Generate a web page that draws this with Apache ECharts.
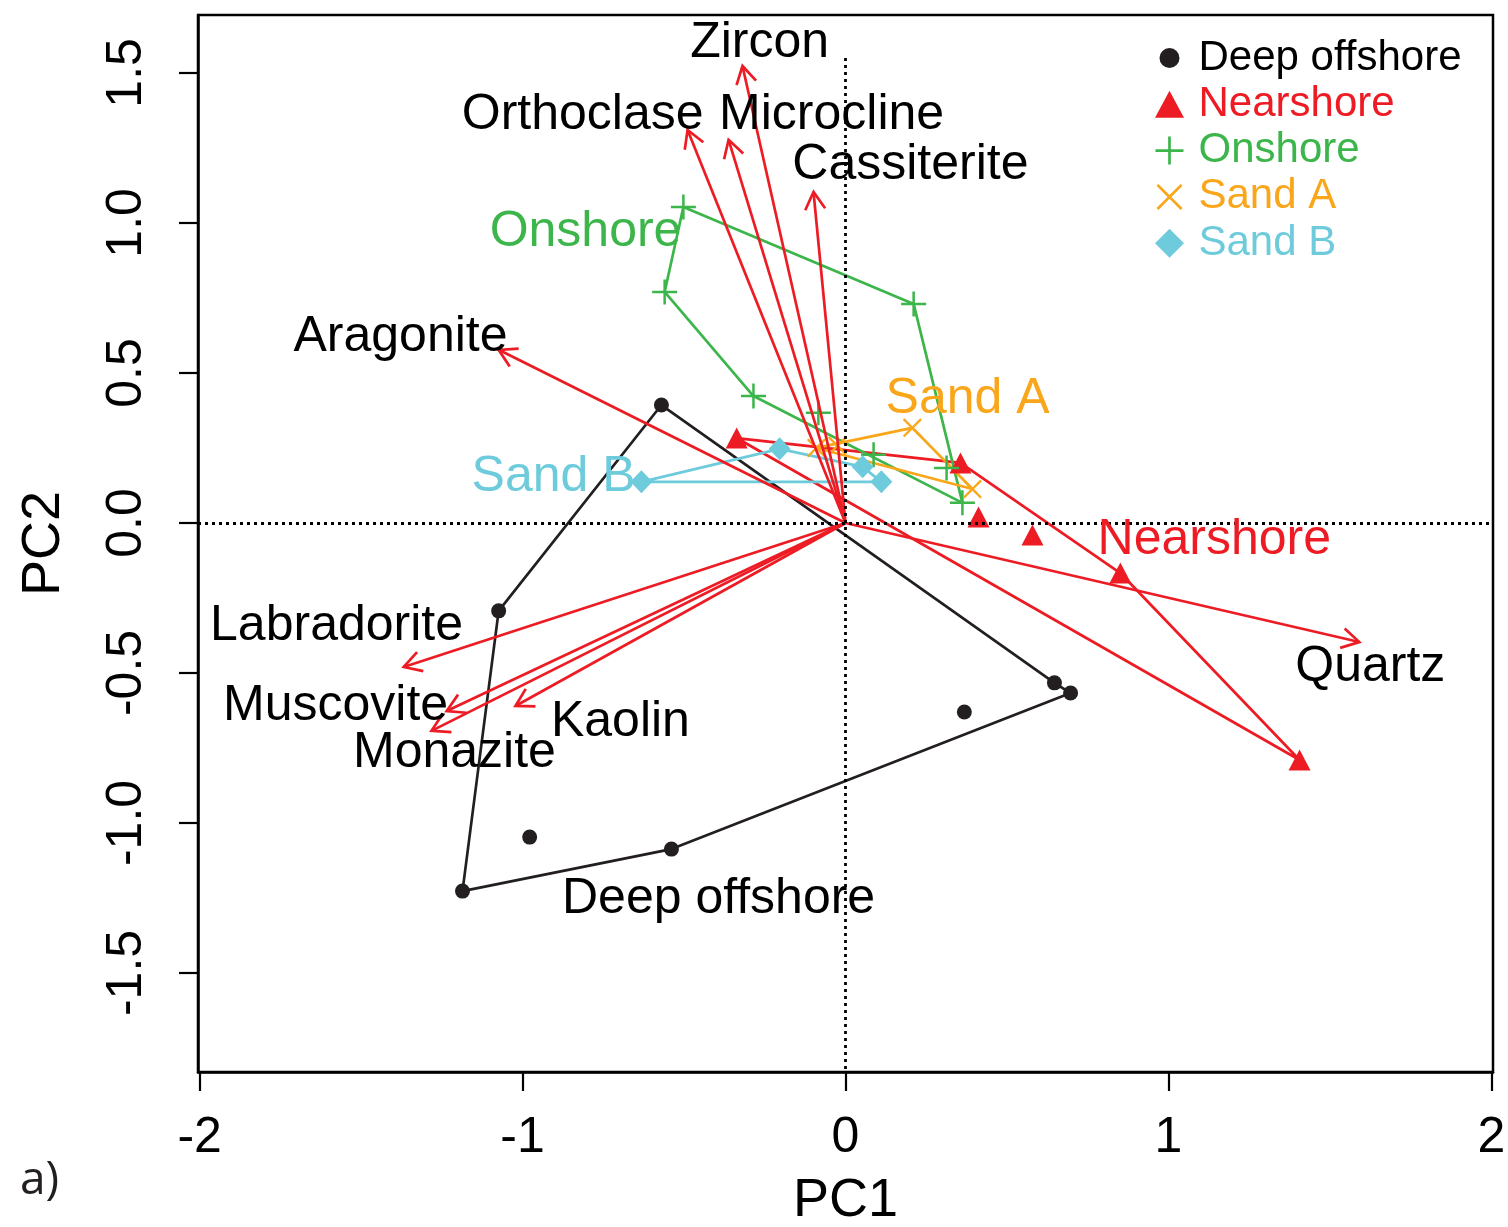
<!DOCTYPE html>
<html><head><meta charset="utf-8">
<script src="https://cdn.jsdelivr.net/npm/echarts@6/dist/echarts.min.js"></script>
<style>html,body{margin:0;padding:0;background:#fff}#c{width:1508px;height:1227px}</style>
</head><body><div id="c"></div>
<script>
// ---------------- DATA ----------------
const groupNames = ['Deep offshore', 'Nearshore', 'Onshore', 'Sand A', 'Sand B'];

const deepOffshore = [[-0.570, 0.393], [-1.074, -0.293], [-1.186, -1.227], [-0.978, -1.047],
                      [-0.539, -1.087], [0.368, -0.630], [0.647, -0.533], [0.697, -0.567]];
const deepOffshoreHull = [0, 6, 7, 4, 2, 1, 0];

const nearshore = [[-0.337, 0.283], [0.356, 0.200], [0.412, 0.020], [0.579, -0.040],
                   [0.851, -0.167], [1.406, -0.790]];
const nearshoreHull = [0, 1, 4, 5, 0];

const onshore = [[-0.502, 1.053], [-0.560, 0.770], [0.211, 0.730], [-0.285, 0.423],
                 [-0.084, 0.367], [0.087, 0.227], [0.313, 0.183], [0.362, 0.067]];
const onshoreHull = [0, 1, 3, 7, 2, 0];

const sandA = [[-0.090, 0.250], [-0.025, 0.257], [0.207, 0.317], [0.393, 0.113]];
const sandAHull = [0, 2, 3, 0];

const sandB = [[-0.632, 0.137], [-0.204, 0.247], [0.053, 0.187], [0.111, 0.137]];
const sandBHull = [0, 1, 2, 3, 0];

const groupLabelPos = [[-0.393, -1.253], [1.142, -0.057], [-0.805, 0.970], [0.378, 0.413], [-0.904, 0.153]];

const loadingNames = ['Zircon', 'Orthoclase', 'Microcline', 'Cassiterite', 'Aragonite',
                      'Labradorite', 'Muscovite', 'Monazite', 'Kaolin', 'Quartz'];
const loadingValues = [[-0.319, 1.523], [-0.489, 1.310], [-0.362, 1.277], [-0.099, 1.103],
                       [-1.074, 0.577], [-1.368, -0.480], [-1.235, -0.627], [-1.282, -0.693],
                       [-1.022, -0.610], [1.591, -0.397]];
const loadingLabelPos = [[-0.266, 1.600], [-0.814, 1.360], [-0.043, 1.360], [0.201, 1.193],
                         [-1.378, 0.620], [-1.576, -0.343], [-1.579, -0.610], [-1.211, -0.767],
                         [-0.697, -0.663], [1.625, -0.480]];

const xTicks = [-2, -1, 0, 1, 2];
const yTicks = [-1.5, -1.0, -0.5, 0.0, 0.5, 1.0, 1.5];
const xRange = [-2.005, 2.005];
const yRange = [-1.83, 1.693];
const vZeroLineTop = 1.55;

// ---------------- STYLE ----------------
const FONT = '"Liberation Sans", Arial, Helvetica, sans-serif';
const COLORS = ['#231f20', '#ed1c24', '#3cb54a', '#faa61a', '#6dcbdc'];
const TEXT_COLORS = ['#000', '#ed1c24', '#3cb54a', '#faa61a', '#6dcbdc'];
const LW = 2.7;

function plusPath(S, w, pad, box) {
  const a = S / 2 - w / 2, b = S / 2 + w / 2;
  const pts = [[a,0],[b,0],[b,a],[S,a],[S,b],[b,b],[b,S],[a,S],[a,b],[0,b],[0,a],[a,a]];
  return 'path://' + (box ? `M0,0 M${box},${box} ` : '') +
    pts.map((p, i) => (i ? 'L' : 'M') + (p[0] + pad).toFixed(2) + ',' + (p[1] + pad).toFixed(2)).join(' ') + ' Z';
}
function xPath(S, t, pad, box) {
  const d = t * Math.SQRT2, c = S / 2;
  const pts = [[d,0],[c,c-d],[S-d,0],[S,d],[c+d,c],[S,S-d],[S-d,S],[c,c+d],[d,S],[0,S-d],[c-d,c],[0,d]];
  return 'path://' + (box ? `M0,0 M${box},${box} ` : '') +
    pts.map((p, i) => (i ? 'L' : 'M') + (p[0] + pad).toFixed(2) + ',' + (p[1] + pad).toFixed(2)).join(' ') + ' Z';
}

const plotSymbols = [
  { symbol: 'circle', size: 15 },
  { symbol: 'triangle', size: [22, 21] },
  { symbol: plusPath(25, 2.5, 0, 0), size: 25 },
  { symbol: xPath(19, 1.15, 0, 0), size: 19 },
  { symbol: 'diamond', size: [22, 23] }
];
const legendIcons = [
  'path://M0,0 M29,29 M4.5,14.5 A10,10 0 1 1 24.5,14.5 A10,10 0 1 1 4.5,14.5 Z',
  'path://M0,0 M29,29 M14.5,1 L29,28 L0,28 Z',
  plusPath(28, 2.7, 0.5, 29),
  xPath(26, 1.35, 1.5, 29),
  'path://M14.5,0 L29,14.5 L14.5,29 L0,14.5 Z'
];

const groupData = [deepOffshore, nearshore, onshore, sandA, sandB];
const groupHulls = [deepOffshoreHull, nearshoreHull, onshoreHull, sandAHull, sandBHull];

const series = [];
groupNames.forEach((name, i) => {
  series.push({
    type: 'scatter', name: name, data: groupData[i],
    symbol: plotSymbols[i].symbol, symbolSize: plotSymbols[i].size,
    itemStyle: { color: COLORS[i], opacity: 1 }, z: 3, silent: true
  });
});
groupNames.forEach((name, i) => {
  const s = {
    type: 'line', name: name, data: groupHulls[i].map(k => groupData[i][k]),
    symbol: 'none', showSymbol: false, lineStyle: { color: COLORS[i], width: LW },
    z: 2, silent: true
  };
  if (i === 0) {
    s.markLine = {
      silent: true, symbol: 'none', label: { show: false },
      lineStyle: { color: '#000', width: 2.8, type: [3, 4] },
      data: [
        { yAxis: 0 },
        [{ coord: [0, vZeroLineTop] }, { coord: [0, yRange[0]] }]
      ]
    };
  }
  series.push(s);
});

series.push({
  type: 'custom', name: 'loadings', silent: true, z: 4,
  data: loadingValues, encode: { x: 0, y: 1 },
  renderItem: function (params, api) {
    const o = api.coord([0, 0]);
    const t = api.coord([api.value(0), api.value(1)]);
    const ang = Math.atan2(t[1] - o[1], t[0] - o[0]);
    const L = 20, a = Math.PI / 6;
    const p1 = [t[0] - L * Math.cos(ang - a), t[1] - L * Math.sin(ang - a)];
    const p2 = [t[0] - L * Math.cos(ang + a), t[1] - L * Math.sin(ang + a)];
    const st = { stroke: COLORS[1], lineWidth: LW, fill: null };
    return { type: 'group', children: [
      { type: 'line', shape: { x1: o[0], y1: o[1], x2: t[0], y2: t[1] }, style: st },
      { type: 'polyline', shape: { points: [p1, t, p2] }, style: st }
    ]};
  }
});

series.push({
  type: 'custom', name: 'loadingLabels', silent: true, z: 5,
  data: loadingLabelPos, encode: { x: 0, y: 1 },
  renderItem: function (params, api) {
    const p = api.coord([api.value(0), api.value(1)]);
    return { type: 'text', x: p[0], y: p[1], style: {
      text: loadingNames[params.dataIndex], fill: '#000', fontSize: 50, fontFamily: FONT,
      align: 'center', verticalAlign: 'middle' } };
  }
});
series.push({
  type: 'custom', name: 'groupLabels', silent: true, z: 5,
  data: groupLabelPos, encode: { x: 0, y: 1 },
  renderItem: function (params, api) {
    const p = api.coord([api.value(0), api.value(1)]);
    return { type: 'text', x: p[0], y: p[1], style: {
      text: groupNames[params.dataIndex], fill: TEXT_COLORS[params.dataIndex], fontSize: 50, fontFamily: FONT,
      align: 'center', verticalAlign: 'middle' } };
  }
});

const chart = echarts.init(document.getElementById('c'), null, { renderer: 'canvas' });
chart.setOption({
  animation: false,
  backgroundColor: '#fff',
  grid: { left: 198, top: 15, width: 1295, height: 1057, show: true, borderColor: '#000', borderWidth: 2.5,
          containLabel: false, outerBoundsMode: 'none' },
  xAxis: {
    type: 'value', min: xRange[0], max: xRange[1],
    splitLine: { show: false },
    axisLine: { onZero: false, lineStyle: { color: '#000', width: 2.5 } },
    axisTick: { customValues: xTicks, length: 19, lineStyle: { color: '#000', width: 2.2 } },
    axisLabel: { customValues: xTicks, fontSize: 50, color: '#000', fontFamily: FONT, margin: 41,
                 formatter: v => String(v) },
    name: 'PC1', nameLocation: 'middle', nameGap: 102,
    nameTextStyle: { fontSize: 54, color: '#000', fontFamily: FONT }
  },
  yAxis: {
    type: 'value', min: yRange[0], max: yRange[1],
    splitLine: { show: false },
    axisLine: { onZero: false, lineStyle: { color: '#000', width: 2.5 } },
    axisTick: { customValues: yTicks, length: 19, lineStyle: { color: '#000', width: 2.2 } },
    axisLabel: { customValues: yTicks, rotate: 90, fontSize: 50, color: '#000', fontFamily: FONT, margin: 46,
                 formatter: v => Number(v).toFixed(1) },
    name: 'PC2', nameLocation: 'middle', nameGap: 127,
    nameTextStyle: { fontSize: 54, color: '#000', fontFamily: FONT }
  },
  legend: {
    orient: 'vertical', left: 1155, top: 37, padding: 0,
    itemWidth: 48, itemHeight: 29, itemGap: 4.3, selectedMode: false,
    textStyle: { fontSize: 42, fontFamily: FONT, lineHeight: 29 },
    data: groupNames.map((n, i) => ({ name: n, icon: legendIcons[i], textStyle: { color: TEXT_COLORS[i] } }))
  },
  graphic: [{
    type: 'text', left: 20, top: 1158,
    style: { text: 'a)', fontSize: 46, fontFamily: '"Open Sans", "Noto Sans", sans-serif', fill: '#231f20' }
  }],
  series: series
});
</script>
</body></html>
